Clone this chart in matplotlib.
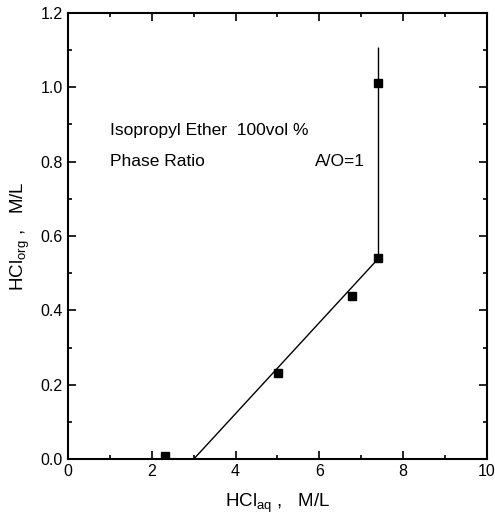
import matplotlib
matplotlib.use("Agg")
import matplotlib.pyplot as plt
from matplotlib.ticker import MultipleLocator

plt.rcParams['font.family'] = ['Liberation Sans', 'DejaVu Sans']

# data points
hcl_aq = [2.32, 5.01, 6.77, 7.41, 7.41]
hcl_org = [0.01, 0.232, 0.438, 0.54, 1.012]

# fitted line (sloped segment then vertical)
line_x = [3.0, 7.41, 7.41]
line_y = [0.0, 0.54, 1.105]

xticks = [0, 2, 4, 6, 8, 10]
xticklabels = ["0", "2", "4", "6", "8", "10"]
yticks = [0.0, 0.2, 0.4, 0.6, 0.8, 1.0, 1.2]
yticklabels = ["0.0", "0.2", "0.4", "0.6", "0.8", "1.0", "1.2"]

fig = plt.figure(figsize=(4.95, 5.16), dpi=100)
ax = fig.add_axes([0.137, 0.110, 0.847, 0.865])

ax.plot(line_x, line_y, color='black', lw=1.0)
ax.plot(hcl_aq, hcl_org, linestyle='none', marker='s', ms=5.5, color='black')

ax.set_xlim(0, 10)
ax.set_ylim(0, 1.2)
ax.set_xticks(xticks)
ax.set_xticklabels(xticklabels)
ax.set_yticks(yticks)
ax.set_yticklabels(yticklabels)
ax.xaxis.set_minor_locator(MultipleLocator(1))
ax.yaxis.set_minor_locator(MultipleLocator(0.1))
ax.tick_params(which='both', direction='in', top=True, right=True, labelsize=11.5, width=1.2)
ax.tick_params(which='major', length=6)
ax.tick_params(which='minor', length=3)
for s in ax.spines.values():
    s.set_linewidth(1.5)

ax.set_xlabel(r"HCl$_{\mathregular{aq}}$ ,   M/L", fontsize=13.5, labelpad=9)
ax.set_ylabel(r"HCl$_{\mathregular{org}}$ ,   M/L", fontsize=13.5, labelpad=6)

ax.text(1.0, 0.885, "Isopropyl Ether  100vol %", fontsize=12.5, va='center')
ax.text(1.0, 0.80, "Phase Ratio", fontsize=12.5, va='center')
ax.text(5.9, 0.80, "A/O=1", fontsize=12.5, va='center')

fig.savefig("out.png", dpi=100)
